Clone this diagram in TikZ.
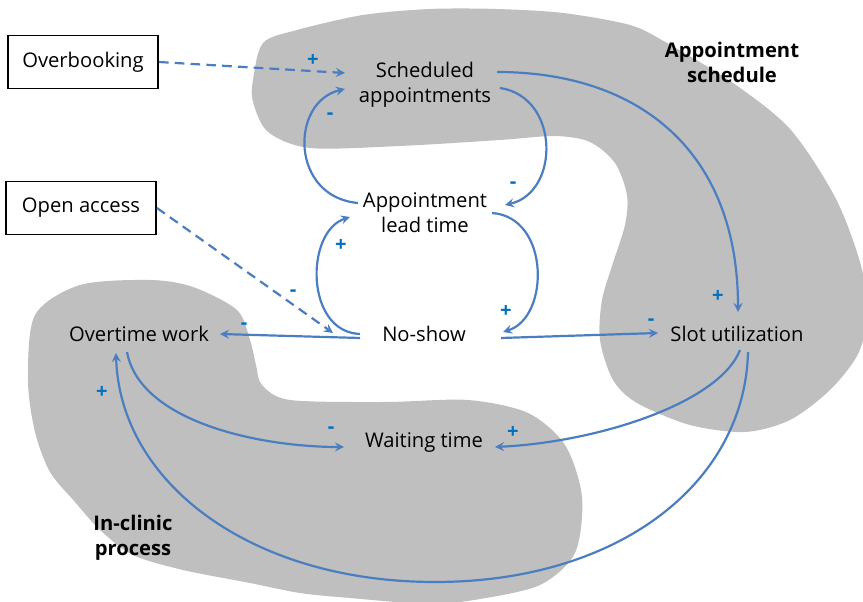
\documentclass[tikz,border=0pt]{standalone}
\usepackage{fontspec}
\setmainfont{Open Sans}
\usetikzlibrary{arrows,positioning,calc}
\definecolor{linkblue}{RGB}{74,126,193}
\definecolor{signblue}{RGB}{0,112,192}
\definecolor{blobgray}{RGB}{191,191,191}

\begin{document}
\begin{tikzpicture}[x=0.02cm,y=0.02cm,>=stealth]

  \tikzstyle{var}=[inner sep=0pt, align=center, font=\fontsize{11.5}{14.2}\selectfont]
  \tikzstyle{policy}=[draw, line width=1.1pt, minimum width=3cm, minimum height=1.06cm, font=\fontsize{11.5}{14.2}\selectfont]
  \tikzstyle{group}=[inner sep=0pt, align=center, font=\bfseries\fontsize{11.5}{14.2}\selectfont]
  \tikzstyle{sign}=[inner sep=0pt, text=signblue, font=\bfseries\fontsize{11.5}{14}\selectfont]
  \tikzstyle{link}=[->, color=linkblue, line width=1.25pt]
  \tikzstyle{policylink}=[link, dash pattern=on 5.5pt off 3.5pt]

  \useasboundingbox (0,0) rectangle (863,602);

  % the two sub-systems
  \fill[blobgray] plot[smooth cycle] coordinates {(253,522) (263,559) (297,572) (363,587) (430,593) (497,593) (563,589) (630,577) (667,559) (733,519) (790,473) (835,405) (860,340) (868,290) (858,248) (830,212) (790,182) (745,170) (690,177) (637,199) (613,222) (600,262) (602,302) (613,339) (625,377) (627,407) (615,439) (590,460) (555,466) (500,462) (400,456) (310,454) (268,470) (253,500)};
  \fill[blobgray] plot[smooth cycle] coordinates {(150,322) (193,315) (237,292) (250,262) (256,237) (262,217) (290,202) (385,200) (468,202) (528,189) (565,157) (582,105) (575,49) (540,17) (480,3) (429,-2) (350,4) (300,9) (250,19) (183,32) (133,47) (100,72) (75,100) (50,130) (35,170) (28,222) (35,287) (80,317)};

  \node[policy] (over) at (83,540) {Overbooking};
  \node[policy] (open) at (81,394) {Open access};

  \node[var] (sched) at (425,517) {Scheduled\\appointments};
  \node[var] (lead) at (425,389) {Appointment\\lead time};
  \node[var] (noshow) at (424,268) {No-show};
  \node[var] (overtime) at (139,268) {Overtime work};
  \node[var] (slot) at (737,268) {Slot utilization};
  \node[var] (waiting) at (424,159) {Waiting time};

  \node[group] (apptgroup) at (732,540) {Appointment\\schedule};
  \node[group] (clinicgroup) at (133,64) {In-clinic\\process};

  \path [policylink] (over.east) edge ($(sched)+(-80,12)$);
  \path [policylink] (open.east) edge ($(noshow)+(-91,1)$);

  \draw[link] ($(sched)+(72,13)$) .. controls (640,530) and (738,450) .. ($(slot)+(1,22)$);
  \draw[link] ($(sched)+(75,-3)$) .. controls (560,505) and (560,410) .. ($(lead)+(80,8)$);
  \draw[link] ($(lead)+(-67,10)$) .. controls (290,405) and (290,500) .. ($(sched)+(-80,-4)$);
  \draw[link] ($(lead)+(67,0)$) .. controls (550,385) and (550,285) .. ($(noshow)+(79,2)$);
  \draw[link] ($(noshow)+(-64,0)$) .. controls (305,270) and (305,370) .. ($(lead)+(-75,-4)$);
  \path [link] ($(noshow)+(-64,-4)$) edge ($(overtime)+(81,0)$);
  \path [link] ($(noshow)+(77,-4)$) edge ($(slot)+(-79,1)$);
  \draw[link] ($(overtime)+(-12,-18)$) .. controls (140,180) and (260,155) .. ($(waiting)+(-80,-4)$);
  \draw[link] ($(slot)+(3,-16)$) .. controls (720,200) and (600,160) .. ($(waiting)+(71,-4)$);
  \draw[link] ($(slot)+(11,-18)$) .. controls (745,120) and (620,20) .. (435,20) .. controls (250,20) and (120,120) .. ($(overtime)+(-23,-19)$);

  \node[sign] (s1) at (313,542) {+};
  \node[sign] (s2) at (330,486) {-};
  \node[sign] (s3) at (513,417) {-};
  \node[sign] (s4) at (718,306) {+};
  \node[sign] (s5) at (341,357) {+};
  \node[sign] (s6) at (506,291) {+};
  \node[sign] (s7) at (293,309) {-};
  \node[sign] (s8) at (244,276) {-};
  \node[sign] (s9) at (651,280) {-};
  \node[sign] (s10) at (331,172) {-};
  \node[sign] (s11) at (513,170) {+};
  \node[sign] (s12) at (102,210) {+};
\end{tikzpicture}
\end{document}
